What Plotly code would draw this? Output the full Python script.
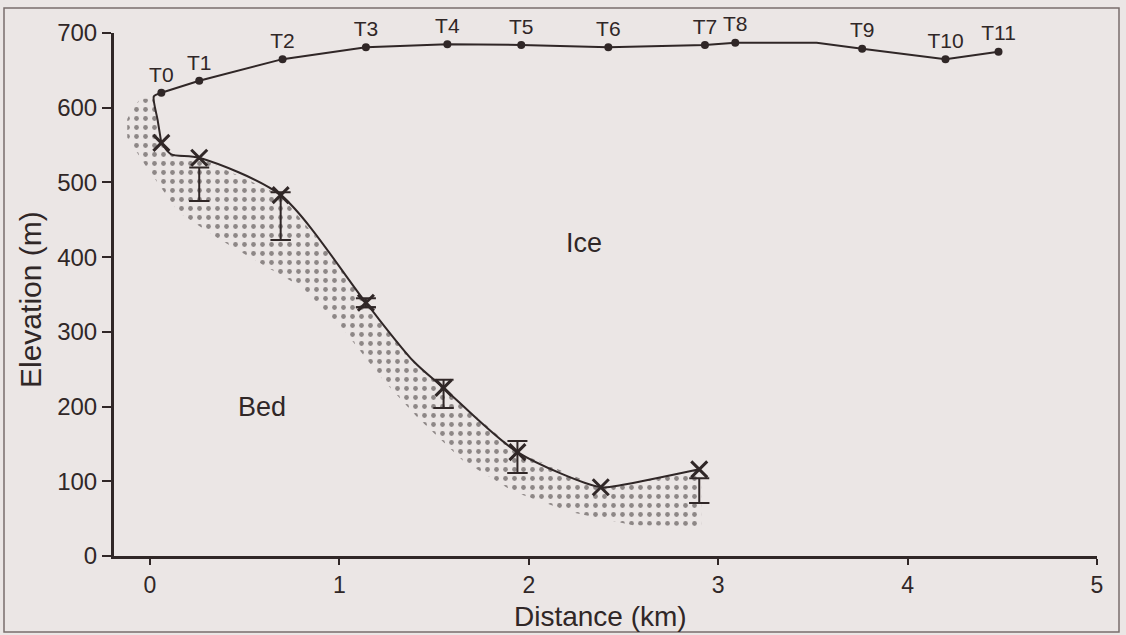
import plotly.graph_objects as go

# ---------------- data ----------------
station_names = ["T0", "T1", "T2", "T3", "T4", "T5", "T6", "T7", "T8", "T9", "T10", "T11"]
station_dist = [0.06, 0.26, 0.70, 1.14, 1.57, 1.96, 2.42, 2.93, 3.09, 3.76, 4.20, 4.48]
station_elev = [620, 636, 665, 681, 685, 684, 681, 684, 687, 679, 665, 675]

# ice front, from T0 down to the first bed point
front_dist = [0.06, 0.02, 0.04, 0.06]
front_elev = [620, 615, 584, 553]

# ice surface line (stations plus the kink between T8 and T9)
surface_dist = [0.06, 0.26, 0.70, 1.14, 1.57, 1.96, 2.42, 2.93, 3.09, 3.52, 3.76, 4.20, 4.48]
surface_elev = [620, 636, 665, 681, 685, 684, 681, 684, 687, 687, 679, 665, 675]

# bed profile line
bed_line_dist = [0.06, 0.11, 0.26, 0.69, 1.14, 1.39, 1.55, 1.94, 2.38, 2.49, 2.90]
bed_line_elev = [553, 538, 533, 483, 339, 261, 225, 139, 92, 95, 116]

# measured bed points (crosses)
bed_dist = [0.06, 0.26, 0.69, 1.14, 1.55, 1.94, 2.38, 2.90]
bed_elev = [553, 533, 483, 339, 225, 139, 92, 116]

# error ranges drawn as I-bars
err_dist = [0.26, 0.69, 1.14, 1.55, 1.94, 2.90]
err_top = [520, 487, 345, 236, 154, 104]
err_bottom = [475, 423, 333, 198, 111, 71]

# stippled bed zone (outline)
stip_dist = [-0.09, -0.05, 0.02, 0.04, 0.06, 0.11, 0.26, 0.69, 0.90, 1.14, 1.39, 1.55,
             1.94, 2.38, 2.49, 2.91, 2.91, 2.55, 2.22, 1.92, 1.65, 1.41, 1.23, 1.03, 0.80,
             0.58, 0.36, 0.15, -0.03, -0.12, -0.12]
stip_elev = [600, 612, 612, 584, 553, 538, 533, 483, 420, 339, 261, 225,
             139, 92, 95, 116, 40, 41, 59, 86, 128, 186, 236, 300, 360,
             392, 425, 460, 525, 560, 585]

x_ticks = [0, 1, 2, 3, 4, 5]
y_ticks = [0, 100, 200, 300, 400, 500, 600, 700]

# ---------------- styling ----------------
INK = "#302727"
BG = "#ebe6e5"
FONT = "Liberation Sans"

fig = go.Figure()

fig.add_trace(go.Scatter(
    x=stip_dist, y=stip_elev, mode="lines", fill="toself",
    line=dict(width=0, color="rgba(0,0,0,0)"),
    fillcolor="rgba(0,0,0,0)",
    fillpattern=dict(shape=".", fgcolor=INK, bgcolor="rgba(0,0,0,0)", size=9, solidity=0.22,
                     fillmode="overlay"),
    hoverinfo="skip", showlegend=False))

fig.add_trace(go.Scatter(
    x=surface_dist, y=surface_elev, mode="lines",
    line=dict(color=INK, width=2), showlegend=False))
fig.add_trace(go.Scatter(
    x=front_dist, y=front_elev, mode="lines",
    line=dict(color=INK, width=2, shape="spline", smoothing=0.6), showlegend=False))

fig.add_trace(go.Scatter(
    x=bed_line_dist, y=bed_line_elev, mode="lines",
    line=dict(color=INK, width=2, shape="spline", smoothing=0.8), showlegend=False))

fig.add_trace(go.Scatter(
    x=station_dist, y=station_elev, mode="markers+text",
    text=station_names, textposition="top center", cliponaxis=False,
    textfont=dict(family=FONT, size=21, color=INK),
    marker=dict(color=INK, size=8), showlegend=False))

fig.add_trace(go.Scatter(
    x=err_dist, y=err_top, mode="markers",
    marker=dict(size=1, color="rgba(0,0,0,0)"),
    error_y=dict(type="data", symmetric=False, array=[0] * len(err_top),
                 arrayminus=[t - b for t, b in zip(err_top, err_bottom)],
                 color=INK, thickness=2, width=10),
    showlegend=False))
fig.add_trace(go.Scatter(
    x=err_dist, y=err_bottom, mode="markers",
    marker=dict(size=1, color="rgba(0,0,0,0)"),
    error_y=dict(type="data", symmetric=False, array=[0] * len(err_top),
                 arrayminus=[0] * len(err_top), color=INK, thickness=2, width=10),
    showlegend=False))

fig.add_trace(go.Scatter(
    x=bed_dist, y=bed_elev, mode="markers",
    marker=dict(symbol="x-thin", size=16, line=dict(color=INK, width=3)),
    showlegend=False))

L, R, T, B = 114, 29, 33, 79
W, H = 1126, 635
pw, ph = W - L - R, H - T - B

def px_x(p):
    return (p - L) / pw

def px_y(p):
    return (H - B - p) / ph

fig.add_annotation(x=2.29, y=419, xref="x", yref="y", text="Ice", showarrow=False,
                   font=dict(family=FONT, size=27, color=INK))
fig.add_annotation(x=0.59, y=200, xref="x", yref="y", text="Bed", showarrow=False,
                   font=dict(family=FONT, size=27, color=INK))
fig.add_annotation(x=px_x(600), y=px_y(616), xref="paper", yref="paper", text="Distance (km)",
                   xanchor="center", yanchor="middle",
                   showarrow=False, font=dict(family=FONT, size=28, color=INK))
fig.add_annotation(x=px_x(30), y=px_y(300), xref="paper", yref="paper", text="Elevation (m)",
                   xanchor="center", yanchor="middle",
                   showarrow=False, textangle=-90, font=dict(family=FONT, size=30, color=INK))

# page frame of the scanned figure
fig.add_shape(type="rect", xref="paper", yref="paper",
              x0=px_x(4), x1=px_x(1119), y0=px_y(632), y1=px_y(8),
              line=dict(color="#7a6e6c", width=1.5), fillcolor="rgba(0,0,0,0)", layer="below")

fig.update_xaxes(range=[-0.19, 5.0], tickvals=x_ticks, ticks="outside", ticklen=6, tickwidth=1.5,
                 tickcolor=INK, showline=True, linecolor=INK, linewidth=3, showgrid=False,
                 zeroline=False, ticklabelstandoff=0,
                 tickfont=dict(family=FONT, size=23, color=INK))
fig.update_yaxes(range=[0, 700], tickvals=y_ticks, ticks="outside", ticklen=9, tickwidth=1.5,
                 tickcolor=INK, showline=True, linecolor=INK, linewidth=3, showgrid=False,
                 zeroline=False, tickfont=dict(family=FONT, size=24, color=INK))

fig.update_layout(width=W, height=H, margin=dict(l=L, r=R, t=T, b=B),
                  paper_bgcolor=BG, plot_bgcolor=BG, showlegend=False)

fig.write_html("out.html")
